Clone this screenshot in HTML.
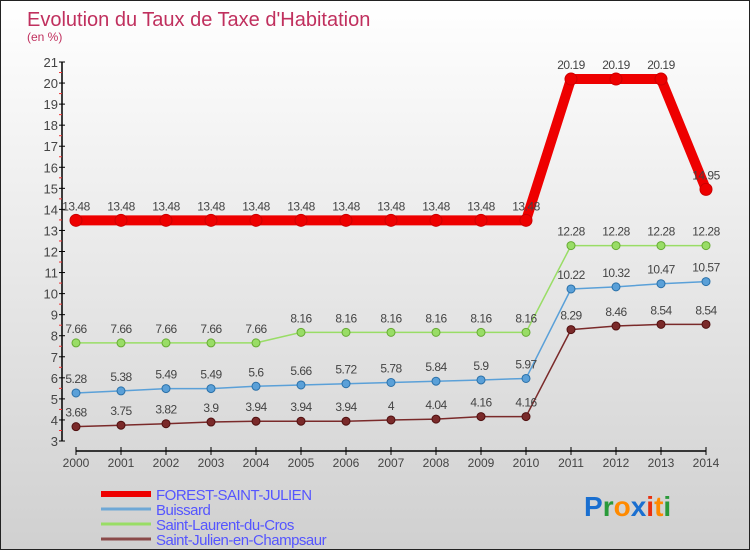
<!DOCTYPE html>
<html><head><meta charset="utf-8"><style>
html,body{margin:0;padding:0}
body{width:750px;height:550px;overflow:hidden;font-family:"Liberation Sans",sans-serif}
#wrap{position:relative;width:748px;height:548px;border:1px solid #222;background:linear-gradient(#ffffff,#d0d0d0)}
svg{position:absolute;left:0;top:0}
</style></head><body>
<div id="wrap">
<svg id="chart" width="750" height="550">
<text x="26" y="25" font-size="20" fill="#c0305e">Evolution du Taux de Taxe d'Habitation</text>
<text x="26" y="40" font-size="12" fill="#c0305e">(en %)</text>
</svg>
</div>
<script>
const years=[2000,2001,2002,2003,2004,2005,2006,2007,2008,2009,2010,2011,2012,2013,2014];
const yTicks=[3,4,5,6,7,8,9,10,11,12,13,14,15,16,17,18,19,20,21];
const forest=[13.48,13.48,13.48,13.48,13.48,13.48,13.48,13.48,13.48,13.48,13.48,20.19,20.19,20.19,14.95];
const buissard=[5.28,5.38,5.49,5.49,5.6,5.66,5.72,5.78,5.84,5.9,5.97,10.22,10.32,10.47,10.57];
const laurent=[7.66,7.66,7.66,7.66,7.66,8.16,8.16,8.16,8.16,8.16,8.16,12.28,12.28,12.28,12.28];
const julien=[3.68,3.75,3.82,3.9,3.94,3.94,3.94,4,4.04,4.16,4.16,8.29,8.46,8.54,8.54];
const seriesNames=["FOREST-SAINT-JULIEN","Buissard","Saint-Laurent-du-Cros","Saint-Julien-en-Champsaur"];
const NS="http://www.w3.org/2000/svg";
const svg=document.getElementById('chart');
const xS=i=>75+(years[i]-years[0])*(630/(years[years.length-1]-years[0]));
const yS=v=>61+(21-v)*(379/18);
function el(t,a,p){const e=document.createElementNS(NS,t);for(const k in a)e.setAttribute(k,a[k]);(p||svg).appendChild(e);return e;}
// y axis
let ax=el('line',{x1:61,y1:yS(21),x2:61,y2:yS(3),stroke:'#000','stroke-width':1.5});


yTicks.forEach(v=>{
  el('line',{x1:58,y1:yS(v),x2:64,y2:yS(v),stroke:'#000'});
  if(v<21){el('line',{x1:58,y1:yS(v+0.5),x2:61,y2:yS(v+0.5),stroke:'#e33'});}
  const t=el('text',{x:57,y:yS(v)+5,'text-anchor':'end','font-size':13,fill:'#444'});
  t.textContent=v;
  
  
});
// x axis
let xa=el('line',{x1:75,y1:450,x2:705,y2:450,stroke:'#000','stroke-width':1.5});


years.forEach((y,i)=>{
  el('line',{x1:xS(i),y1:446,x2:xS(i),y2:454,stroke:'#000'});
  const t=el('text',{x:xS(i),y:466,'text-anchor':'middle','font-size':12,fill:'#444'});
  t.textContent=y;
  
  
});
function series(vals,color,w,r,name,dark){
  const g=el('g',{});
  
  
  el('polyline',{points:vals.map((v,i)=>xS(i)+','+yS(v)).join(' '),fill:'none',stroke:color,'stroke-width':w,'stroke-linejoin':'round'},g);
  vals.forEach((v,i)=>{
    const c=el('circle',{cx:xS(i),cy:yS(v),r:r,fill:color,stroke:dark,'stroke-width':1},g);
    
    
    const t=el('text',{x:xS(i),y:yS(v)-10,'text-anchor':'middle','font-size':12,fill:'#444','letter-spacing':'-0.5'},g);
    t.textContent=v;
    
    
  });
}
series(julien,'#7a2a2a',1.5,4,'series-saint-julien','#501010');
series(buissard,'#5aa0d8',1.5,4,'series-buissard','#2a70a8');
series(laurent,'#99dd66',1.5,4,'series-saint-laurent','#66aa33');
series(forest,'#ee0000',10,6,'series-forest-saint-julien','#cc0000');
// legend
const lc=['#ee0000','#6fa8d6','#99dd66','#8a4a4a'],lw=[6,3,3,3];
seriesNames.forEach((n,i)=>{
  const y=493+i*15;
  const g=el('g',{});
  
  
  el('line',{x1:100,y1:y,x2:150,y2:y,stroke:lc[i],'stroke-width':lw[i]},g);
  const t=el('text',{x:155,y:y+6,'font-size':15,fill:'#5555ff','letter-spacing':'-0.5'},g);
  t.textContent=n;
});
// logo
const lg=el('text',{x:583,y:515,'font-size':28,'font-family':'"Liberation Sans",sans-serif','font-weight':'bold'});


[['P','#1a6fd0'],['r','#2a9a3a'],['o','#ff8a00'],['x','#1a6fd0'],['i','#e83010'],['t','#ff8a00'],['i','#2a9a3a']].forEach(([c,f])=>{const s=el('tspan',{fill:f},lg);s.textContent=c;});
</script>
</body></html>
